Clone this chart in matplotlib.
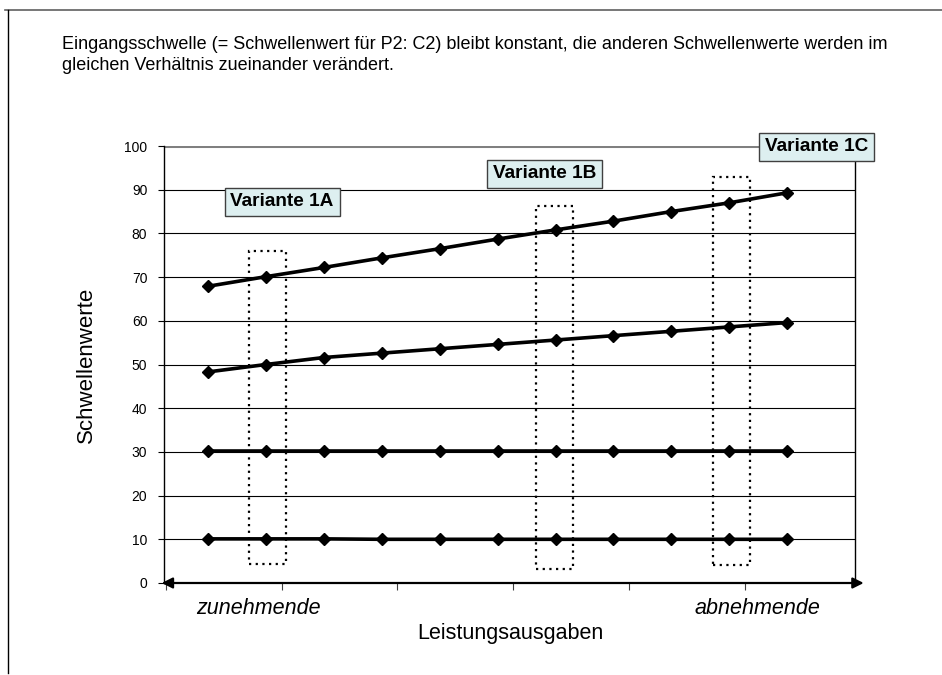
import matplotlib
matplotlib.use("Agg")
import matplotlib.pyplot as plt
from matplotlib.patches import Rectangle
from matplotlib.lines import Line2D

plt.rcParams['font.family'] = ['Liberation Sans', 'DejaVu Sans']

# data: 11 steps along "Leistungsausgaben"
steps = list(range(11))
s_top = [67.9, 70.1, 72.2, 74.4, 76.5, 78.7, 80.8, 82.8, 85.0, 87.0, 89.3]
s_mid = [48.3, 50.0, 51.6, 52.6, 53.6, 54.6, 55.6, 56.6, 57.6, 58.6, 59.6]
s_30 = [30.2] * 11
s_10 = [10.1, 10.1, 10.1, 10.0, 10.0, 10.0, 10.0, 10.0, 10.0, 10.0, 10.0]
series = [s_top, s_mid, s_30, s_10]

yticks = list(range(0, 101, 10))
xticks = [-0.72, 1.27, 3.27, 5.27, 7.27, 9.27]

# dotted selection boxes (x0, x1, y0, y1) and their labels
var_boxes = [(0.71, 1.35, 4.3, 76.0), (5.66, 6.30, 3.2, 86.3), (8.72, 9.36, 4.1, 92.9)]
var_labels = ["Variante 1A", "Variante 1B", "Variante 1C"]
label_pos = [(1.28, 87.2), (5.81, 93.6), (10.51, 99.8)]

title = ("Eingangsschwelle (= Schwellenwert für P2: C2) bleibt konstant, die anderen Schwellenwerte werden im\n"
         "gleichen Verhältnis zueinander verändert.")

fig = plt.figure(figsize=(9.42, 6.75), dpi=100)
ax = fig.add_axes([164 / 942, 1 - 583 / 675, (855 - 164) / 942, (583 - 146) / 675])

# outer frame (top + left)
fig.add_artist(Line2D([5 / 942, 1], [1 - 10 / 675] * 2, color='#606060', lw=1.2))
fig.add_artist(Line2D([8 / 942] * 2, [1 - 10 / 675, 1 - 673 / 675], color='black', lw=1.0))

fig.text(62 / 942, 1 - 36 / 675, title, fontsize=13.0, va='top', ha='left', linespacing=1.3)

ax.set_xlim(-0.76, 11.17)
ax.set_ylim(0, 100)

for y in yticks[1:-1]:
    ax.axhline(y, color='black', lw=0.8, zorder=1)
ax.axhline(100, color='#808080', lw=2.2, zorder=1)

for s in series:
    ax.plot(steps, s, color='black', lw=2.6, marker='D', markersize=6, zorder=3)

for (x0, x1, y0, y1) in var_boxes:
    ax.add_patch(Rectangle((x0, y0), x1 - x0, y1 - y0, fill=False, ls=(0, (1, 2)),
                           lw=1.6, ec='black', zorder=4))

for txt, (x, y) in zip(var_labels, label_pos):
    ax.text(x, y, txt, fontsize=13.7, fontweight='bold', ha='center', va='center', zorder=6,
            clip_on=False,
            bbox=dict(boxstyle='square,pad=0.3', fc='#DDEFF0', ec='#404040', lw=1.0))

for sp in ['top', 'bottom']:
    ax.spines[sp].set_visible(False)
ax.spines['left'].set_linewidth(1.0)
ax.spines['right'].set_linewidth(1.0)

ax.annotate('', xy=(11.32, 0), xytext=(-0.8, 0), xycoords='data',
            arrowprops=dict(arrowstyle='<|-|>', color='black', lw=1.6, mutation_scale=16,
                            shrinkA=0, shrinkB=0), annotation_clip=False, zorder=5)

ax.set_yticks(yticks)
ax.set_yticklabels([str(v) for v in yticks], fontsize=10)
ax.set_xticks(xticks)
ax.set_xticklabels([])
ax.tick_params(axis='y', length=4, width=0.8, pad=8)
ax.tick_params(axis='x', length=5, width=0.8, direction='out', color='#404040')

ax.set_ylabel("Schwellenwerte", fontsize=16)
ax.yaxis.set_label_coords((97 - 164) / 691, 0.5)
fig.text(258 / 942, 1 - 609 / 675, "zunehmende", fontsize=15.5, style='italic', ha='center', va='center')
fig.text(757 / 942, 1 - 609 / 675, "abnehmende", fontsize=15.5, style='italic', ha='center', va='center')
fig.text(510 / 942, 1 - 634 / 675, "Leistungsausgaben", fontsize=15.5, ha='center', va='center')

fig.savefig("out.png", dpi=100)
